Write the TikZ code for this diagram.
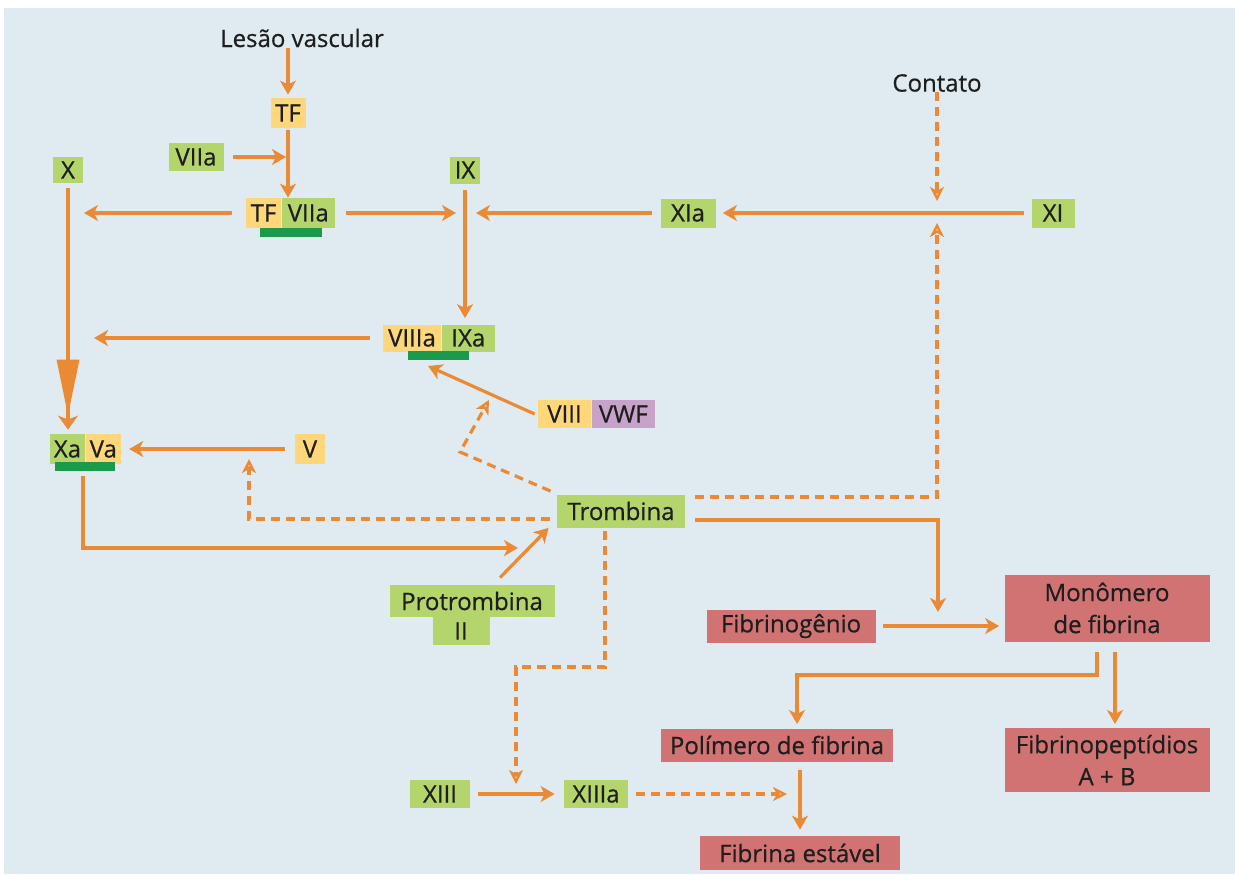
\documentclass[tikz,border=0pt]{standalone}
\usepackage{fontspec}
\setmainfont{Open Sans}
\newfontfamily\labelfont{Open Sans}[FakeBold=0.6]
\usetikzlibrary{arrows.meta, positioning}

\definecolor{bgblue}{HTML}{DFEBF1}
\definecolor{arrorange}{HTML}{EB8A35}
\definecolor{facyellow}{HTML}{FDD77A}
\definecolor{facgreen}{HTML}{B4D46C}
\definecolor{bargreen}{HTML}{1B9A4C}
\definecolor{fibred}{HTML}{D27373}
\definecolor{vwfpurple}{HTML}{C7A2C9}
\definecolor{txt}{HTML}{1E1E1E}

\tikzset{
  fac/.style={inner sep=0pt, text=txt, font=\labelfont\fontsize{12}{16}\selectfont},
  yel/.style={fac, fill=facyellow},
  grn/.style={fac, fill=facgreen},
  fib/.style={fac, fill=fibred, align=center},
  cbar/.style={fill=bargreen, inner sep=0pt, minimum height=4.5pt},
  arr/.style={draw=arrorange, line width=1.6pt, -{Stealth[length=7pt,width=8pt,inset=2pt]}},
  dblarr/.style={draw=arrorange, line width=1.6pt, -{Stealth[length=28pt,width=11pt,inset=0pt] Stealth[length=7pt,width=10pt,inset=2pt]}},
  darr/.style={draw=arrorange, line width=1.6pt, dash pattern=on 4.5pt off 3pt, -{Stealth[open,length=7pt,width=7pt,inset=2pt,line width=1.2pt]}},
}

\begin{document}
\begin{tikzpicture}[x=0.5pt, y=-0.5pt]
\useasboundingbox (0,0) rectangle (1235,874);
\fill[bgblue] (4,8) rectangle (1235,874);

% extrinsic start
\node[fac] (lesao) at (302,38) {Lesão vascular};
\node[yel, minimum width=17.5pt, minimum height=15pt] (tf) at (288,113) {TF};
\node[grn, minimum width=27.5pt, minimum height=14pt] (viia) at (196,157) {VIIa};
\node[yel, minimum width=17.5pt, minimum height=15pt] (tfc) at (263.5,213) {TF};
\node[grn, minimum width=26.5pt, minimum height=15pt, right=0pt of tfc] (viiac) {VIIa};
\node[cbar, minimum width=31pt] (tfbar) at (291,232) {};

% factors X, IX, XI
\node[grn, minimum width=15pt, minimum height=13pt] (x) at (68,170) {X};
\node[grn, minimum width=15pt, minimum height=13.5pt] (ix) at (465,170) {IX};
\node[grn, minimum width=27.5pt, minimum height=14.5pt] (xia) at (688,213) {XIa};
\node[grn, minimum width=21.5pt, minimum height=14.5pt] (xi) at (1053,213) {XI};
\node[fac] (contato) at (937,83) {Contato};

% tenase and prothrombinase
\node[yel, minimum width=29pt, minimum height=13.5pt] (viiia) at (412,338) {VIIIa};
\node[grn, minimum width=26.5pt, minimum height=13.5pt, right=0pt of viiia] (ixa) {IXa};
\node[cbar, minimum width=30.5pt] (vbar) at (438,355) {};
\node[yel, minimum width=26.5pt, minimum height=14pt] (viii) at (564.5,414) {VIII};
\node[fac, fill=vwfpurple, minimum width=31.5pt, minimum height=14pt, right=0pt of viii] (vwf) {VWF};
\node[grn, minimum width=17.5pt, minimum height=15pt] (xa) at (67.5,449) {Xa};
\node[yel, minimum width=17.5pt, minimum height=15pt, right=0pt of xa] (va) {Va};
\node[cbar, minimum width=30pt] (xvbar) at (85,466) {};
\node[yel, minimum width=15pt, minimum height=15pt] (v) at (310,449) {V};

% thrombin
\node[grn, minimum width=64pt, minimum height=16.5pt] (tromb) at (621,511) {Trombina};
\node[grn, minimum width=82.5pt, minimum height=16pt] (protr) at (472,601) {Protrombina};
\node[grn, minimum width=28.5pt, minimum height=14pt] (ii) at (461,631) {II};
\node[grn, minimum width=30pt, minimum height=14pt] (xiii) at (440,794) {XIII};
\node[grn, minimum width=32pt, minimum height=14pt] (xiiia) at (596,794) {XIIIa};

% fibrin
\node[fib, minimum width=116pt, minimum height=16.5pt] (polim) at (777,745) {Polímero de fibrina};
\node[fib, minimum width=100pt, minimum height=17pt] (fest) at (800,853) {Fibrina estável};
\node[fib, minimum width=84.5pt, minimum height=16.5pt] (fibrg) at (791,626) {Fibrinogênio};
\node[fib, minimum width=102.5pt, minimum height=33.5pt] (mono) at (1107,608) {Monômero\\de fibrina};
\node[fib, minimum width=102.5pt, minimum height=32pt] (fpep) at (1107,760) {Fibrinopeptídios\\A + B};

% junction points on the lines
\coordinate (jtf) at (286,157);
\coordinate (xj1) at (84,213);
\coordinate (xj2) at (94,338);
\coordinate (ixj1) at (456,213);
\coordinate (ixj2) at (476,213);
\coordinate (ctj1) at (937,201);
\coordinate (ctj2) at (937,223);
\coordinate (vj) at (428,366);
\coordinate (tb1) at (460,452);
\coordinate (tb2) at (489,400);
\coordinate (vj2) at (249,459);
\coordinate (tj1) at (518,548);
\coordinate (xiiibend) at (516,667);
\coordinate (xiiij) at (516,784);
\coordinate (fj) at (787,794);
\coordinate (fibj) at (938,612);
\coordinate (pf1) at (800,770);
\coordinate (mp1) at (1097,652);
\coordinate (mpbend) at (797,675);
\coordinate (mp2) at (797,724);
\coordinate (mp3) at (1115,652);
\coordinate (mp4) at (1115,724);

% solid arrows
\draw[arr, shorten >=1.5pt] (lesao.south -| tf.north) -- (tf.north);
\draw[arr] ([xshift=4.5pt]viia.east) -- (jtf);
\draw[arr] ([yshift=-1pt]tf.south) -- (tf.south |- tfc.north);
\draw[arr] ([xshift=-7pt]tfc.west) -- (xj1);
\draw[arr] ([xshift=5.5pt]viiac.east) -- (ixj1);
\draw[arr] ([xshift=-4pt]xia.west) -- (ixj2);
\draw[arr, shorten <=3.5pt, shorten >=3.5pt] (xi.west) -- (xia.east);
\draw[dblarr, shorten >=2pt] ([yshift=-2.5pt]x.south) -- (x.south |- xa.north);
\draw[arr, shorten >=3pt] ([yshift=-3pt]ix.south) -- (ix.south |- ixa.north);
\draw[arr] ([xshift=-6.5pt]viiia.west) -- (xj2);
\draw[arr] ([xshift=-1.5pt]viii.west) -- (vj);
\draw[arr, shorten <=5pt, shorten >=4pt] (v.west) -- (va.east);
\draw[arr] ([xshift=-1pt,yshift=-2.5pt]xvbar.south) |- (tj1);
\draw[arr] ([xshift=14pt,yshift=3.5pt]protr.north) -- ([xshift=-4pt]tromb.south west);
\draw[arr, shorten <=4pt, shorten >=4.5pt] (xiii.east) -- (xiiia.west);
\draw[arr] ([xshift=5pt,yshift=-4.5pt]tromb.east) -| (fibj);
\draw[arr, shorten <=3.5pt, shorten >=2.5pt] (fibrg.east) -- (fibrg.east -| mono.west);
\draw[arr] (mp1) |- (mpbend) -- (mp2);
\draw[arr] (mp3) -- (mp4);
\draw[arr, shorten >=3pt] (pf1) -- (fest.north);

% dashed (thrombin feedback, contact)
\draw[darr] (contato.south) -- (ctj1);
\draw[darr] ([xshift=5pt,yshift=7pt]tromb.east) -| (ctj2);
\draw[darr] ([xshift=-3pt,yshift=1.5pt]tromb.north west) -- (tb1) -- (tb2);
\draw[darr] ([xshift=-3.5pt,yshift=-4pt]tromb.west) -| (vj2);
\draw[darr] ([xshift=-8pt,yshift=-1.5pt]tromb.south) |- (xiiibend) -- (xiiij);
\draw[darr] ([xshift=4pt]xiiia.east) -- (fj);

\end{tikzpicture}
\end{document}
